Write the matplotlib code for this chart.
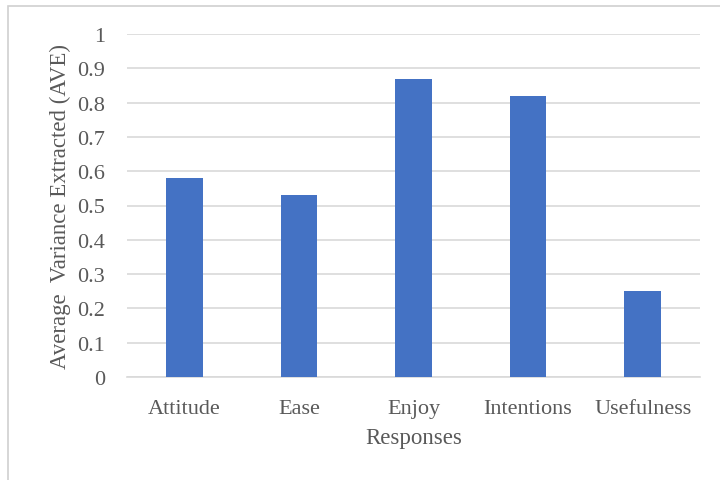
import matplotlib.pyplot as plt

categories = ["Attitude", "Ease", "Enjoy", "Intentions", "Usefulness"]
ave_values = [0.58, 0.53, 0.87, 0.82, 0.25]
y_ticks = [0, 0.1, 0.2, 0.3, 0.4, 0.5, 0.6, 0.7, 0.8, 0.9, 1]
y_tick_labels = ["0", "0.1", "0.2", "0.3", "0.4", "0.5", "0.6", "0.7", "0.8", "0.9", "1"]

plt.rcParams['font.family'] = ['Liberation Serif', 'DejaVu Serif']
text_color = '#595959'

fig = plt.figure(figsize=(7.2, 4.81), dpi=100)
fig.patch.set_facecolor('white')

# thin frame round the chart area
frame = plt.Rectangle((8 / 720, -0.1), 1.0, 1 - 7 / 481 + 0.1, transform=fig.transFigure,
                      fill=False, edgecolor='#d0d0d0', linewidth=1.2)
fig.patches.append(frame)

ax = fig.add_axes([127 / 720, 1 - 378 / 481, 573 / 720, 343 / 481])
x = range(len(categories))
ax.bar(x, ave_values, width=0.32, color='#4472c4', zorder=3)

ax.set_xlim(-0.5, len(categories) - 0.5)
ax.set_ylim(0, 1)
ax.set_yticks(y_ticks)
ax.set_yticklabels(y_tick_labels)
ax.set_xticks(list(x))
ax.set_xticklabels(categories)

ax.yaxis.grid(True, color='#d9d9d9', linewidth=1.2, zorder=0)
ax.set_axisbelow(True)
for side in ['top', 'right', 'left']:
    ax.spines[side].set_visible(False)
ax.spines['bottom'].set_color('#d9d9d9')
ax.spines['bottom'].set_linewidth(1.2)

ax.tick_params(axis='both', length=0, labelsize=16, labelcolor=text_color)
ax.tick_params(axis='y', pad=16)
ax.tick_params(axis='x', pad=16)

ax.set_xlabel("Responses", fontsize=16.5, color=text_color, labelpad=6)
ax.set_ylabel("Average  Variance Extracted (AVE)", fontsize=16.5, color=text_color, labelpad=4)

fig.savefig("out.png", dpi=100)
